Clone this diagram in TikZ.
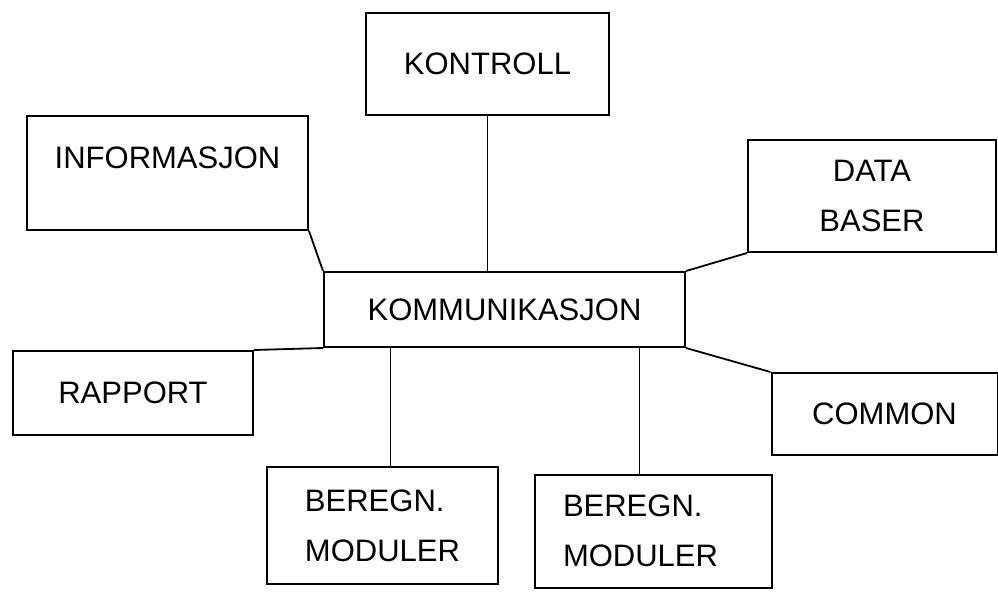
\documentclass[tikz,border=0pt]{standalone}
\usepackage{fontspec}
\setmainfont{Liberation Sans}
\begin{document}
\begin{tikzpicture}[
        x=0.5pt, y=-0.5pt,
        every node/.style={rectangle, draw, line width=1pt, inner sep=0pt, align=center,
          font=\fontsize{15.5}{25}\selectfont},
        link/.style={line width=0.9pt}
      ]
      \useasboundingbox (0,0) rectangle (998,591);
      \node[minimum width=121.5pt, minimum height=51pt] (kontroll) at (487.5,64) {KONTROLL};
      \node[minimum width=140.5pt, minimum height=57pt, text height=11pt, text depth=16pt]
        (informasjon) at (167.5,173) {INFORMASJON};
      \node[minimum width=124pt, minimum height=56pt] (databaser) at (872,196) {DATA\\BASER};
      \node[minimum width=180.5pt, minimum height=37.5pt] (kommunikasjon) at (504.5,309.5) {KOMMUNIKASJON};
      \node[minimum width=120pt, minimum height=42pt] (rapport) at (133,393) {RAPPORT};
      \node[minimum width=113pt, minimum height=41pt] (common) at (884.5,414) {COMMON};
      \node[minimum width=115.5pt, minimum height=58.5pt, align=left] (beregn1) at (382.5,525.5) {BEREGN.\\MODULER};
      \node[minimum width=118.5pt, minimum height=56.5pt, align=left, inner xsep=14pt, text width=90.5pt]
        (beregn2) at (653.5,531) {BEREGN.\\MODULER};
      \draw[link] (kontroll.south) -- (kontroll.south |- kommunikasjon.north);
      \draw[link] (informasjon.south east) -- (kommunikasjon.north west);
      \draw[link] (databaser.south west) -- (kommunikasjon.north east);
      \draw[link] (rapport.north east) -- (kommunikasjon.south west);
      \draw[link] ([xshift=4pt]beregn1.north) -- ([xshift=4pt]beregn1.north |- kommunikasjon.south);
      \draw[link] ([xshift=-7pt]beregn2.north) -- ([xshift=-7pt]beregn2.north |- kommunikasjon.south);
      \draw[link] (common.north west) -- (kommunikasjon.south east);
    \end{tikzpicture}
\end{document}
